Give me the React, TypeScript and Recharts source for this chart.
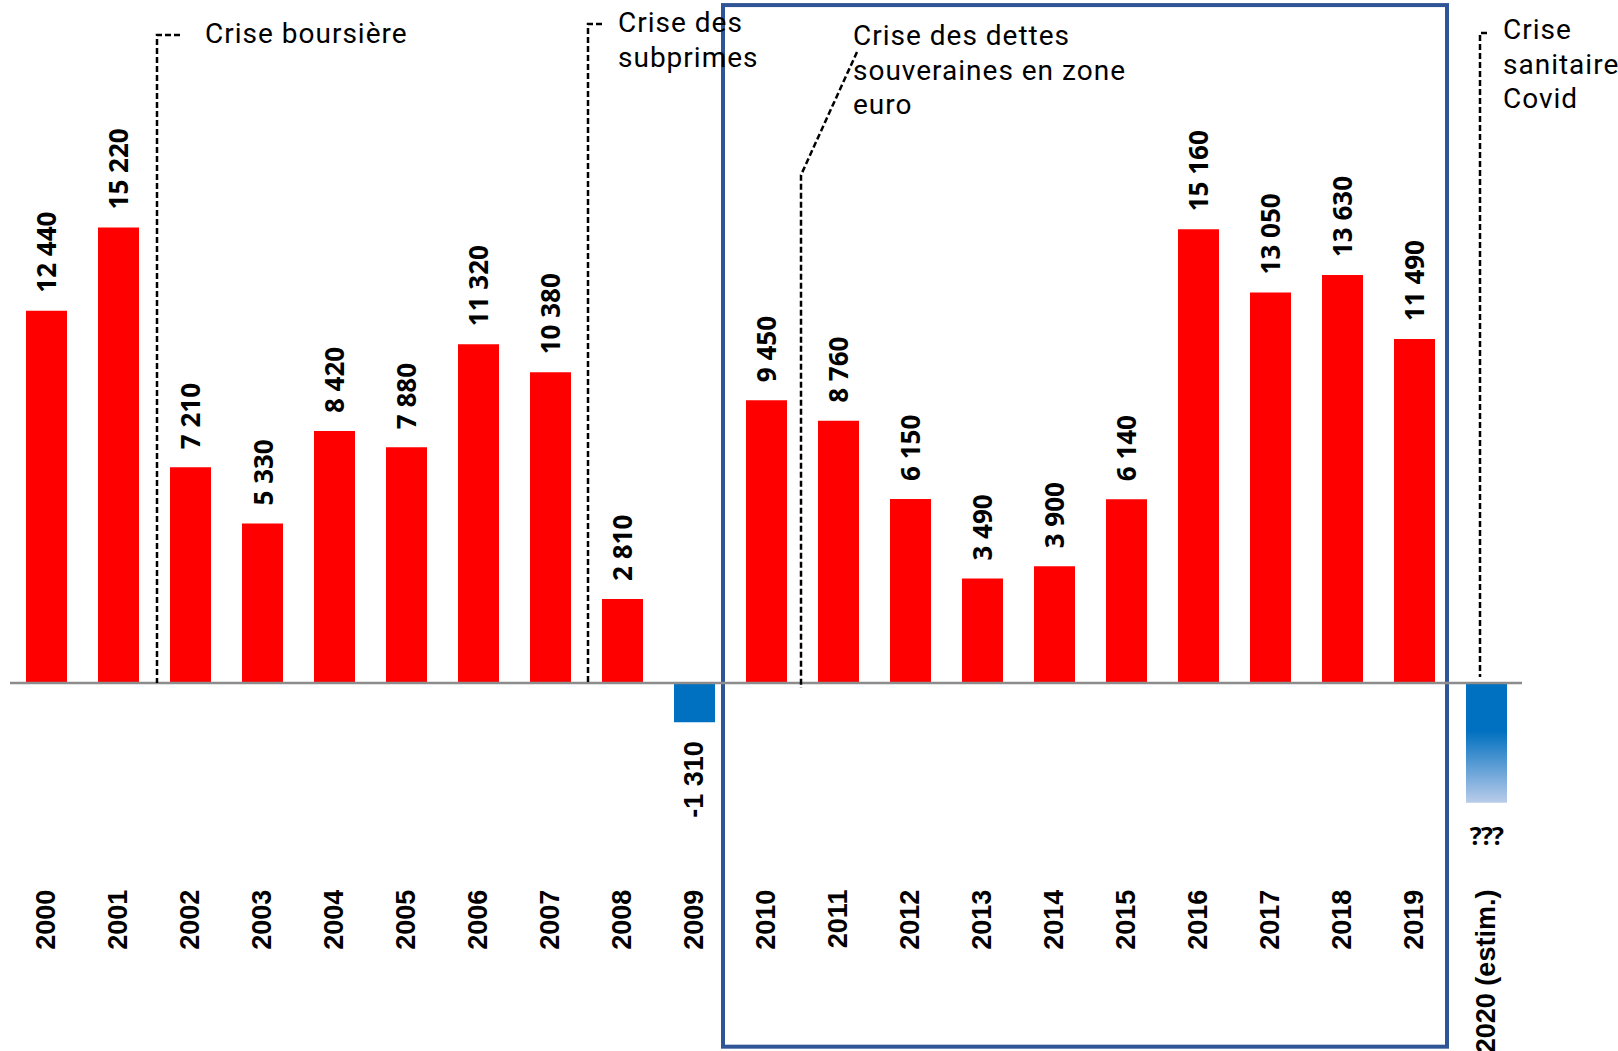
import React from 'react';
import { BarChart, Bar, XAxis, YAxis, Cell, LabelList, ReferenceLine, ReferenceArea } from 'recharts';

// ---------- data ----------
const years = ['2000', '2001', '2002', '2003', '2004', '2005', '2006', '2007', '2008', '2009', '2010', '2011', '2012', '2013', '2014', '2015', '2016', '2017', '2018', '2019', '2020 (estim.)'];
const values = [12440, 15220, 7210, 5330, 8420, 7880, 11320, 10380, 2810, -1310, 9450, 8760, 6150, 3490, 3900, 6140, 15160, 13050, 13630, 11490, -4000];
const valueLabels = ['12 440', '15 220', '7 210', '5 330', '8 420', '7 880', '11 320', '10 380', '2 810', '-1 310', '9 450', '8 760', '6 150', '3 490', '3 900', '6 140', '15 160', '13 050', '13 630', '11 490', '???'];
const estimatedYear = '2020 (estim.)';

const crisisYears = ['2001', '2007', '2010', '2020 (estim.)'];
const crisisTexts = [
  ['Crise boursière'],
  ['Crise des', 'subprimes'],
  ['Crise des dettes', 'souveraines en zone', 'euro'],
  ['Crise', 'sanitaire', 'Covid'],
];

const highlightStart = '2010';
const highlightEnd = '2019';

const data = years.map((year, i) => ({
  year,
  value: values[i],
  label: valueLabels[i],
  estimated: year === estimatedYear,
}));

// ---------- layout / style ----------
const W = 1618;
const H = 1051;
const Y_MIN = -6000;
const Y_MAX = 20000;
const BOX_LOW = -12150;
const BOX_HIGH = 22650;
const PLOT_TOP = 84.4;
const PLOT_H = 778.2;
const TICK_DY = 27;

const RED = '#FF0000';
const BLUE = '#0070C0';
const BOX = '#2F5597';

const annotationFont: React.CSSProperties = {
  fontFamily: 'Roboto, sans-serif',
  fontSize: 28,
  letterSpacing: 1,
  fill: '#000',
};

type Layout = {
  position: 'start' | 'middle' | 'end';
  dx: number;
  textDx: number;
  firstBaseline: number;
  endDy: number;
  hookTop?: number;
  hookLen?: number;
  diag?: { dx: number; y: number; kneeY: number };
};

const crisisLayout: Layout[] = [
  { position: 'end', dx: 3, hookTop: 35, hookLen: 23, textDx: 48, firstBaseline: 43, endDy: 0 },
  { position: 'end', dx: 2, hookTop: 24, hookLen: 14, textDx: 30, firstBaseline: 32, endDy: 0 },
  { position: 'end', dx: -1, diag: { dx: 56, y: 52, kneeY: 175 }, textDx: 52, firstBaseline: 45, endDy: 5 },
  { position: 'middle', dx: -6, hookTop: 33, hookLen: 7, textDx: 23, firstBaseline: 39, endDy: -6 },
];

const crisisShape = (k: number) => (p: any) => {
  const L = crisisLayout[k];
  const x = p.x1 + L.dx;
  const top = Math.min(p.y1, p.y2);
  const bottom = Math.max(p.y1, p.y2);
  const zeroY = top + ((bottom - top) * Y_MAX) / (Y_MAX - Y_MIN);
  const endY = zeroY + L.endDy;
  const d = L.diag
    ? `M ${x + L.diag.dx} ${L.diag.y} L ${x} ${L.diag.kneeY} V ${endY}`
    : `M ${x + (L.hookLen || 0)} ${L.hookTop} H ${x} V ${endY}`;
  return (
    <g>
      <path d={d} fill="none" stroke="#000" strokeWidth={2.5} strokeDasharray="6 3" />
      <text x={x + L.textDx} y={L.firstBaseline} style={annotationFont}>
        {crisisTexts[k].map((line, j) => (
          <tspan key={j} x={x + L.textDx} y={L.firstBaseline + j * 34.5}>
            {line}
          </tspan>
        ))}
      </text>
    </g>
  );
};

const renderTick = (p: any) => {
  const x = p.x;
  const y = p.y + TICK_DY;
  return (
    <text
      x={x}
      y={y}
      transform={`rotate(-90 ${x} ${y})`}
      textAnchor="end"
      dominantBaseline="central"
      fontFamily="'Liberation Sans', Arial, sans-serif"
      fontWeight={700}
      fontSize={27}
      fill="#000"
    >
      {p.payload.value}
    </text>
  );
};

const renderValueLabel = (p: any) => {
  const vb = p.viewBox || p;
  const x = vb.x;
  const y = vb.y;
  const w = vb.width;
  const h = vb.height;
  const row = data.find((r) => r.label === p.value);
  if (!row || x == null) return null;
  const cx = x + w / 2;
  const top = Math.min(y, y + h);
  const bottom = Math.max(y, y + h);
  if (row.estimated) {
    return (
      <text
        x={cx}
        y={bottom + 42}
        textAnchor="middle"
        fontFamily="'Open Sans', sans-serif"
        fontWeight={700}
        fontSize={25}
        letterSpacing={-0.8}
        fill="#000"
      >
        {row.label}
      </text>
    );
  }
  if (row.value < 0) {
    const ay = bottom + 19;
    return (
      <text
        x={cx}
        y={ay}
        transform={`rotate(-90 ${cx} ${ay})`}
        textAnchor="end"
        dominantBaseline="central"
        fontFamily="'Liberation Sans', Arial, sans-serif"
        fontWeight={700}
        fontSize={27}
        fill="#000"
      >
        {row.label}
      </text>
    );
  }
  const ay = top - 18;
  return (
    <text
      x={cx}
      y={ay}
      transform={`rotate(-90 ${cx} ${ay})`}
      textAnchor="start"
      dominantBaseline="central"
      fontFamily="'Open Sans', sans-serif"
      fontWeight={700}
      fontSize={26}
      fill="#000"
    >
      {row.label}
    </text>
  );
};

export default function App() {
  return (
    <div style={{ position: 'absolute', left: 0, top: 0, width: W, height: H, background: '#fff', overflow: 'hidden' }}>
      <BarChart
        width={W}
        height={H}
        data={data}
        margin={{ top: PLOT_TOP, right: 96, bottom: 0, left: 10 }}
      >
        <defs>
          <linearGradient id="estimGrad" x1="0" y1="0" x2="0" y2="1">
            <stop offset="0" stopColor={BLUE} />
            <stop offset="0.4" stopColor={BLUE} />
            <stop offset="1" stopColor="#BACCEA" />
          </linearGradient>
        </defs>
        <XAxis
          dataKey="year"
          interval={0}
          axisLine={false}
          tickLine={false}
          tickSize={0}
          tickMargin={0}
          height={H - PLOT_TOP - PLOT_H}
          tick={renderTick}
        />
        <YAxis hide domain={[Y_MIN, Y_MAX]} />
        <ReferenceArea
          x1={highlightStart}
          x2={highlightEnd}
          y1={BOX_LOW}
          y2={BOX_HIGH}
          ifOverflow="visible"
          shape={(p: any) => (
            <rect x={p.x - 7} y={p.y} width={p.width + 4} height={p.height} fill="none" stroke={BOX} strokeWidth={4} />
          )}
        />
        <Bar dataKey="value" barSize={41} isAnimationActive={false}>
          {data.map((r, i) => (
            <Cell key={i} fill={r.estimated ? 'url(#estimGrad)' : r.value < 0 ? BLUE : RED} />
          ))}
          <LabelList dataKey="label" content={renderValueLabel} />
        </Bar>
        <ReferenceLine y={0} stroke="#8C8C8C" strokeWidth={2.5} />
        {crisisYears.map((yr, k) => (
          <ReferenceLine
            key={yr}
            x={yr}
            position={crisisLayout[k].position}
            stroke="#000"
            shape={crisisShape(k)}
          />
        ))}
      </BarChart>
    </div>
  );
}
